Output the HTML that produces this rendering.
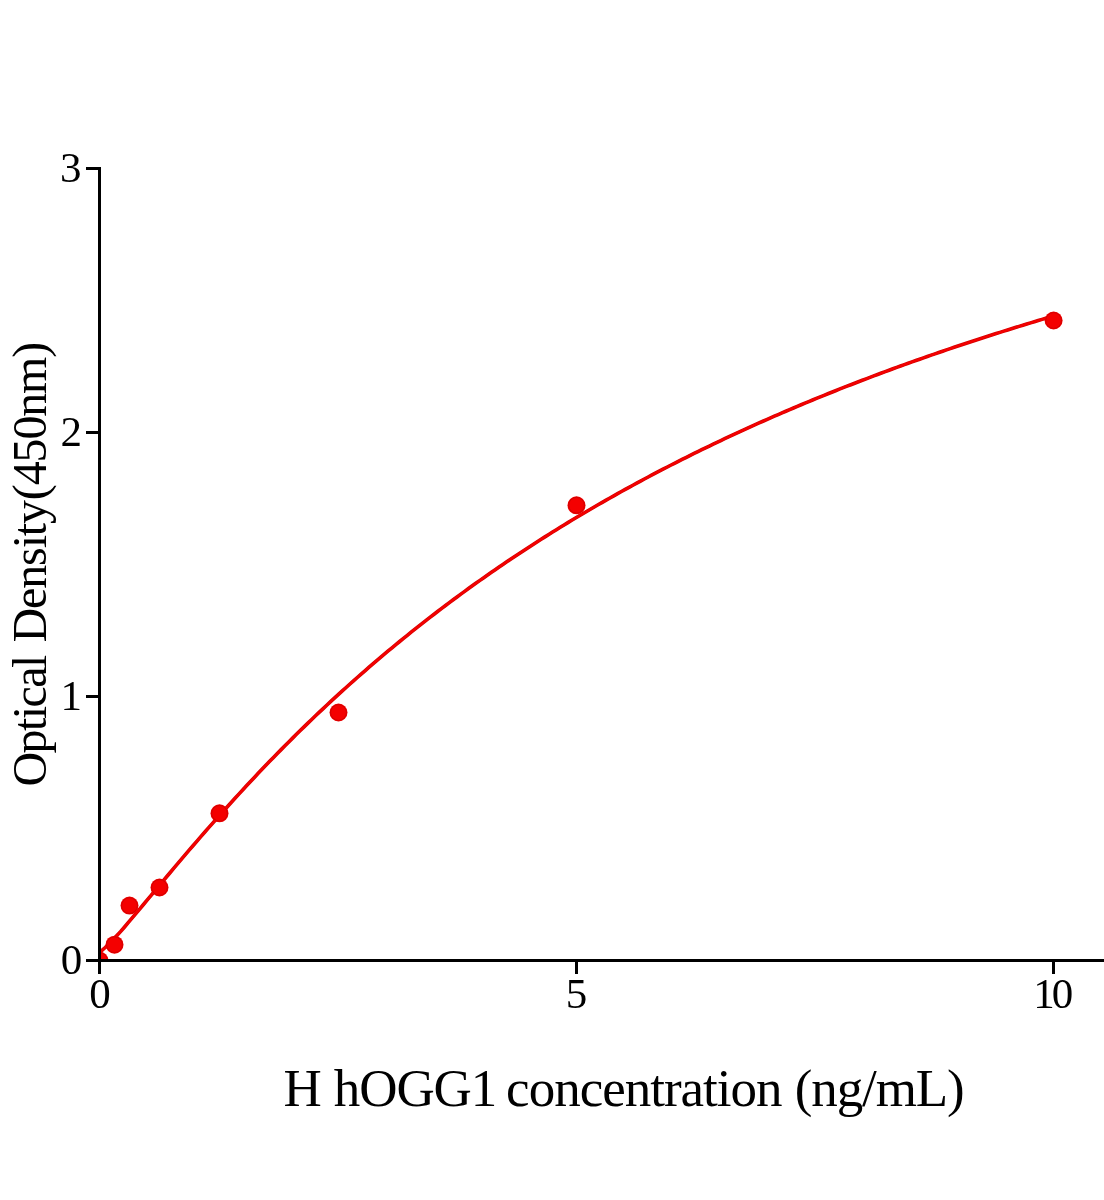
<!DOCTYPE html>
<html><head><meta charset="utf-8"><title>H hOGG1 standard curve</title>
<style>
html,body{margin:0;padding:0;background:#fff;}
body{width:1104px;height:1200px;overflow:hidden;}
svg{display:block;}
text{font-family:"Liberation Serif","Times New Roman",serif;fill:#000;}
</style></head><body>
<svg width="1104" height="1200" viewBox="0 0 1104 1200">
<rect width="1104" height="1200" fill="#fff"/>
<path d="M99.50,952.15 L101.41,950.81 L105.23,947.51 L109.06,943.85 L112.88,939.87 L116.70,935.78 L120.53,931.62 L124.35,927.20 L128.17,922.70 L132.00,918.17 L135.82,913.63 L139.64,909.06 L143.47,904.48 L147.29,899.90 L151.12,895.32 L154.94,890.73 L158.76,886.15 L162.59,881.58 L166.41,877.02 L170.23,872.47 L174.06,867.93 L177.88,863.41 L181.70,858.90 L185.53,854.42 L189.35,849.95 L193.18,845.51 L197.00,841.08 L200.82,836.67 L204.65,832.28 L208.47,827.92 L212.29,823.58 L216.12,819.26 L219.94,814.97 L223.77,810.70 L227.59,806.45 L231.41,802.22 L235.24,798.03 L239.06,793.85 L242.88,789.70 L246.71,785.58 L250.53,781.48 L254.35,777.41 L258.18,773.36 L262.00,769.34 L265.83,765.34 L269.65,761.37 L273.47,757.43 L277.30,753.51 L281.12,749.62 L284.94,745.75 L288.77,741.90 L292.59,738.10 L296.41,734.32 L300.24,730.56 L304.06,726.84 L307.89,723.13 L311.71,719.46 L315.53,715.80 L319.36,712.18 L323.18,708.57 L327.00,705.00 L330.83,701.44 L334.65,697.91 L338.48,694.41 L342.30,690.92 L346.12,687.47 L349.95,684.03 L353.77,680.62 L357.59,677.24 L361.42,673.88 L365.24,670.54 L369.06,667.22 L372.89,663.93 L376.71,660.65 L380.54,657.41 L384.36,654.18 L388.18,650.98 L392.01,647.80 L395.83,644.64 L399.65,641.50 L403.48,638.38 L407.30,635.29 L411.12,632.21 L414.95,629.16 L418.77,626.13 L422.60,623.12 L426.42,620.13 L430.24,617.16 L434.07,614.21 L437.89,611.29 L441.71,608.38 L445.54,605.49 L449.36,602.62 L453.18,599.77 L457.01,596.94 L460.83,594.13 L464.66,591.34 L468.48,588.57 L472.30,585.81 L476.13,583.08 L479.95,580.36 L483.77,577.66 L487.60,574.98 L491.42,572.32 L495.25,569.68 L499.07,567.05 L502.89,564.44 L506.72,561.85 L510.54,559.28 L514.36,556.72 L518.19,554.18 L522.01,551.66 L525.83,549.15 L529.66,546.66 L533.48,544.19 L537.31,541.73 L541.13,539.29 L544.95,536.87 L548.78,534.46 L552.60,532.06 L556.42,529.69 L560.25,527.32 L564.07,524.98 L567.89,522.65 L571.72,520.33 L575.54,518.03 L579.37,515.74 L583.19,513.47 L587.01,511.21 L590.84,508.97 L594.66,506.74 L598.48,504.53 L602.31,502.33 L606.13,500.14 L609.96,497.97 L613.78,495.81 L617.60,493.67 L621.43,491.54 L625.25,489.42 L629.07,487.32 L632.90,485.22 L636.72,483.15 L640.54,481.08 L644.37,479.03 L648.19,476.99 L652.02,474.96 L655.84,472.95 L659.66,470.95 L663.49,468.96 L667.31,466.98 L671.13,465.02 L674.96,463.06 L678.78,461.12 L682.60,459.19 L686.43,457.28 L690.25,455.37 L694.08,453.48 L697.90,451.59 L701.72,449.72 L705.55,447.86 L709.37,446.01 L713.19,444.17 L717.02,442.35 L720.84,440.53 L724.67,438.73 L728.49,436.93 L732.31,435.15 L736.14,433.38 L739.96,431.61 L743.78,429.86 L747.61,428.12 L751.43,426.39 L755.25,424.66 L759.08,422.95 L762.90,421.25 L766.73,419.56 L770.55,417.88 L774.37,416.21 L778.20,414.54 L782.02,412.89 L785.84,411.25 L789.67,409.61 L793.49,407.99 L797.31,406.37 L801.14,404.77 L804.96,403.17 L808.79,401.58 L812.61,400.00 L816.43,398.43 L820.26,396.87 L824.08,395.32 L827.90,393.78 L831.73,392.24 L835.55,390.72 L839.37,389.20 L843.20,387.69 L847.02,386.19 L850.85,384.70 L854.67,383.21 L858.49,381.73 L862.32,380.27 L866.14,378.81 L869.96,377.35 L873.79,375.91 L877.61,374.47 L881.44,373.05 L885.26,371.63 L889.08,370.21 L892.91,368.81 L896.73,367.41 L900.55,366.02 L904.38,364.64 L908.20,363.26 L912.02,361.89 L915.85,360.53 L919.67,359.18 L923.50,357.83 L927.32,356.49 L931.14,355.16 L934.97,353.84 L938.79,352.52 L942.61,351.21 L946.44,349.91 L950.26,348.61 L954.08,347.32 L957.91,346.03 L961.73,344.76 L965.56,343.49 L969.38,342.22 L973.20,340.97 L977.03,339.72 L980.85,338.47 L984.67,337.23 L988.50,336.00 L992.32,334.78 L996.15,333.56 L999.97,332.35 L1003.79,331.14 L1007.62,329.94 L1011.44,328.74 L1015.26,327.56 L1019.09,326.37 L1022.91,325.20 L1026.73,324.03 L1030.56,322.86 L1034.38,321.70 L1038.21,320.55 L1042.03,319.40 L1045.85,318.26 L1049.68,317.13 L1053.50,316.00" fill="none" stroke="#d40000" stroke-width="3.6" stroke-linejoin="round" stroke-linecap="butt"/>
<path d="M99.50,952.15 L101.41,950.81 L105.23,947.51 L109.06,943.85 L112.88,939.87 L116.70,935.78 L120.53,931.62 L124.35,927.20 L128.17,922.70 L132.00,918.17 L135.82,913.63 L139.64,909.06 L143.47,904.48 L147.29,899.90 L151.12,895.32 L154.94,890.73 L158.76,886.15 L162.59,881.58 L166.41,877.02 L170.23,872.47 L174.06,867.93 L177.88,863.41 L181.70,858.90 L185.53,854.42 L189.35,849.95 L193.18,845.51 L197.00,841.08 L200.82,836.67 L204.65,832.28 L208.47,827.92 L212.29,823.58 L216.12,819.26 L219.94,814.97 L223.77,810.70 L227.59,806.45 L231.41,802.22 L235.24,798.03 L239.06,793.85 L242.88,789.70 L246.71,785.58 L250.53,781.48 L254.35,777.41 L258.18,773.36 L262.00,769.34 L265.83,765.34 L269.65,761.37 L273.47,757.43 L277.30,753.51 L281.12,749.62 L284.94,745.75 L288.77,741.90 L292.59,738.10 L296.41,734.32 L300.24,730.56 L304.06,726.84 L307.89,723.13 L311.71,719.46 L315.53,715.80 L319.36,712.18 L323.18,708.57 L327.00,705.00 L330.83,701.44 L334.65,697.91 L338.48,694.41 L342.30,690.92 L346.12,687.47 L349.95,684.03 L353.77,680.62 L357.59,677.24 L361.42,673.88 L365.24,670.54 L369.06,667.22 L372.89,663.93 L376.71,660.65 L380.54,657.41 L384.36,654.18 L388.18,650.98 L392.01,647.80 L395.83,644.64 L399.65,641.50 L403.48,638.38 L407.30,635.29 L411.12,632.21 L414.95,629.16 L418.77,626.13 L422.60,623.12 L426.42,620.13 L430.24,617.16 L434.07,614.21 L437.89,611.29 L441.71,608.38 L445.54,605.49 L449.36,602.62 L453.18,599.77 L457.01,596.94 L460.83,594.13 L464.66,591.34 L468.48,588.57 L472.30,585.81 L476.13,583.08 L479.95,580.36 L483.77,577.66 L487.60,574.98 L491.42,572.32 L495.25,569.68 L499.07,567.05 L502.89,564.44 L506.72,561.85 L510.54,559.28 L514.36,556.72 L518.19,554.18 L522.01,551.66 L525.83,549.15 L529.66,546.66 L533.48,544.19 L537.31,541.73 L541.13,539.29 L544.95,536.87 L548.78,534.46 L552.60,532.06 L556.42,529.69 L560.25,527.32 L564.07,524.98 L567.89,522.65 L571.72,520.33 L575.54,518.03 L579.37,515.74 L583.19,513.47 L587.01,511.21 L590.84,508.97 L594.66,506.74 L598.48,504.53 L602.31,502.33 L606.13,500.14 L609.96,497.97 L613.78,495.81 L617.60,493.67 L621.43,491.54 L625.25,489.42 L629.07,487.32 L632.90,485.22 L636.72,483.15 L640.54,481.08 L644.37,479.03 L648.19,476.99 L652.02,474.96 L655.84,472.95 L659.66,470.95 L663.49,468.96 L667.31,466.98 L671.13,465.02 L674.96,463.06 L678.78,461.12 L682.60,459.19 L686.43,457.28 L690.25,455.37 L694.08,453.48 L697.90,451.59 L701.72,449.72 L705.55,447.86 L709.37,446.01 L713.19,444.17 L717.02,442.35 L720.84,440.53 L724.67,438.73 L728.49,436.93 L732.31,435.15 L736.14,433.38 L739.96,431.61 L743.78,429.86 L747.61,428.12 L751.43,426.39 L755.25,424.66 L759.08,422.95 L762.90,421.25 L766.73,419.56 L770.55,417.88 L774.37,416.21 L778.20,414.54 L782.02,412.89 L785.84,411.25 L789.67,409.61 L793.49,407.99 L797.31,406.37 L801.14,404.77 L804.96,403.17 L808.79,401.58 L812.61,400.00 L816.43,398.43 L820.26,396.87 L824.08,395.32 L827.90,393.78 L831.73,392.24 L835.55,390.72 L839.37,389.20 L843.20,387.69 L847.02,386.19 L850.85,384.70 L854.67,383.21 L858.49,381.73 L862.32,380.27 L866.14,378.81 L869.96,377.35 L873.79,375.91 L877.61,374.47 L881.44,373.05 L885.26,371.63 L889.08,370.21 L892.91,368.81 L896.73,367.41 L900.55,366.02 L904.38,364.64 L908.20,363.26 L912.02,361.89 L915.85,360.53 L919.67,359.18 L923.50,357.83 L927.32,356.49 L931.14,355.16 L934.97,353.84 L938.79,352.52 L942.61,351.21 L946.44,349.91 L950.26,348.61 L954.08,347.32 L957.91,346.03 L961.73,344.76 L965.56,343.49 L969.38,342.22 L973.20,340.97 L977.03,339.72 L980.85,338.47 L984.67,337.23 L988.50,336.00 L992.32,334.78 L996.15,333.56 L999.97,332.35 L1003.79,331.14 L1007.62,329.94 L1011.44,328.74 L1015.26,327.56 L1019.09,326.37 L1022.91,325.20 L1026.73,324.03 L1030.56,322.86 L1034.38,321.70 L1038.21,320.55 L1042.03,319.40 L1045.85,318.26 L1049.68,317.13 L1053.50,316.00" fill="none" stroke="#f40000" stroke-width="2.3" stroke-linejoin="round" stroke-linecap="butt"/>
<defs><clipPath id="plot"><rect x="99" y="0" width="1005" height="961"/></clipPath></defs>
<g fill="#f40000" stroke="#cc0000" stroke-width="0.9" clip-path="url(#plot)">
<circle cx="99.5" cy="960.5" r="9" stroke="none"/><circle cx="99.5" cy="960.5" r="7.9" fill="none"/>
<circle cx="114.5" cy="944.7" r="9" stroke="none"/><circle cx="114.5" cy="944.7" r="7.9" fill="none"/>
<circle cx="129.5" cy="905.6" r="9" stroke="none"/><circle cx="129.5" cy="905.6" r="7.9" fill="none"/>
<circle cx="159.5" cy="887.5" r="9" stroke="none"/><circle cx="159.5" cy="887.5" r="7.9" fill="none"/>
<circle cx="219.5" cy="813.3" r="9" stroke="none"/><circle cx="219.5" cy="813.3" r="7.9" fill="none"/>
<circle cx="338.5" cy="712.5" r="9" stroke="none"/><circle cx="338.5" cy="712.5" r="7.9" fill="none"/>
<circle cx="576.5" cy="505.3" r="9" stroke="none"/><circle cx="576.5" cy="505.3" r="7.9" fill="none"/>
<circle cx="1053.6" cy="320.5" r="9" stroke="none"/><circle cx="1053.6" cy="320.5" r="7.9" fill="none"/>
</g>
<g fill="#000" shape-rendering="crispEdges">
<rect x="98" y="167" width="3" height="806.5"/>
<rect x="86" y="959" width="1018" height="3"/>
<rect x="86" y="167" width="13" height="3"/>
<rect x="86" y="431" width="13" height="3"/>
<rect x="86" y="695" width="13" height="3"/>
<rect x="575" y="960" width="3" height="13.5"/>
<rect x="1052" y="960" width="3" height="13.5"/>
</g>
<g font-size="43" text-anchor="end">
<text x="81.6" y="182">3</text>
<text x="82" y="446">2</text>
<text x="82.1" y="710">1</text>
<text x="82.2" y="974">0</text>
</g>
<g font-size="43" text-anchor="middle">
<text x="100" y="1008.1">0</text>
<text x="576.5" y="1008.1">5</text>
<text x="1033.15" y="1008.1" text-anchor="start">1<tspan dx="-2.8">0</tspan></text>
</g>
<text id="xl" x="283.5" y="1106" font-size="53" letter-spacing="-1.1">H <tspan dx="1">hOGG1</tspan> <tspan dx="-2.2" letter-spacing="-1.0">concentration</tspan> <tspan dx="1">(ng/mL)</tspan></text>
<text id="yl" transform="translate(46,786.5) rotate(-90)" font-size="48" letter-spacing="-1.15"><tspan letter-spacing="-1.58">Optical</tspan> <tspan dx="3">Density</tspan><tspan dx="1">(450nm)</tspan></text>
</svg>
</body></html>
